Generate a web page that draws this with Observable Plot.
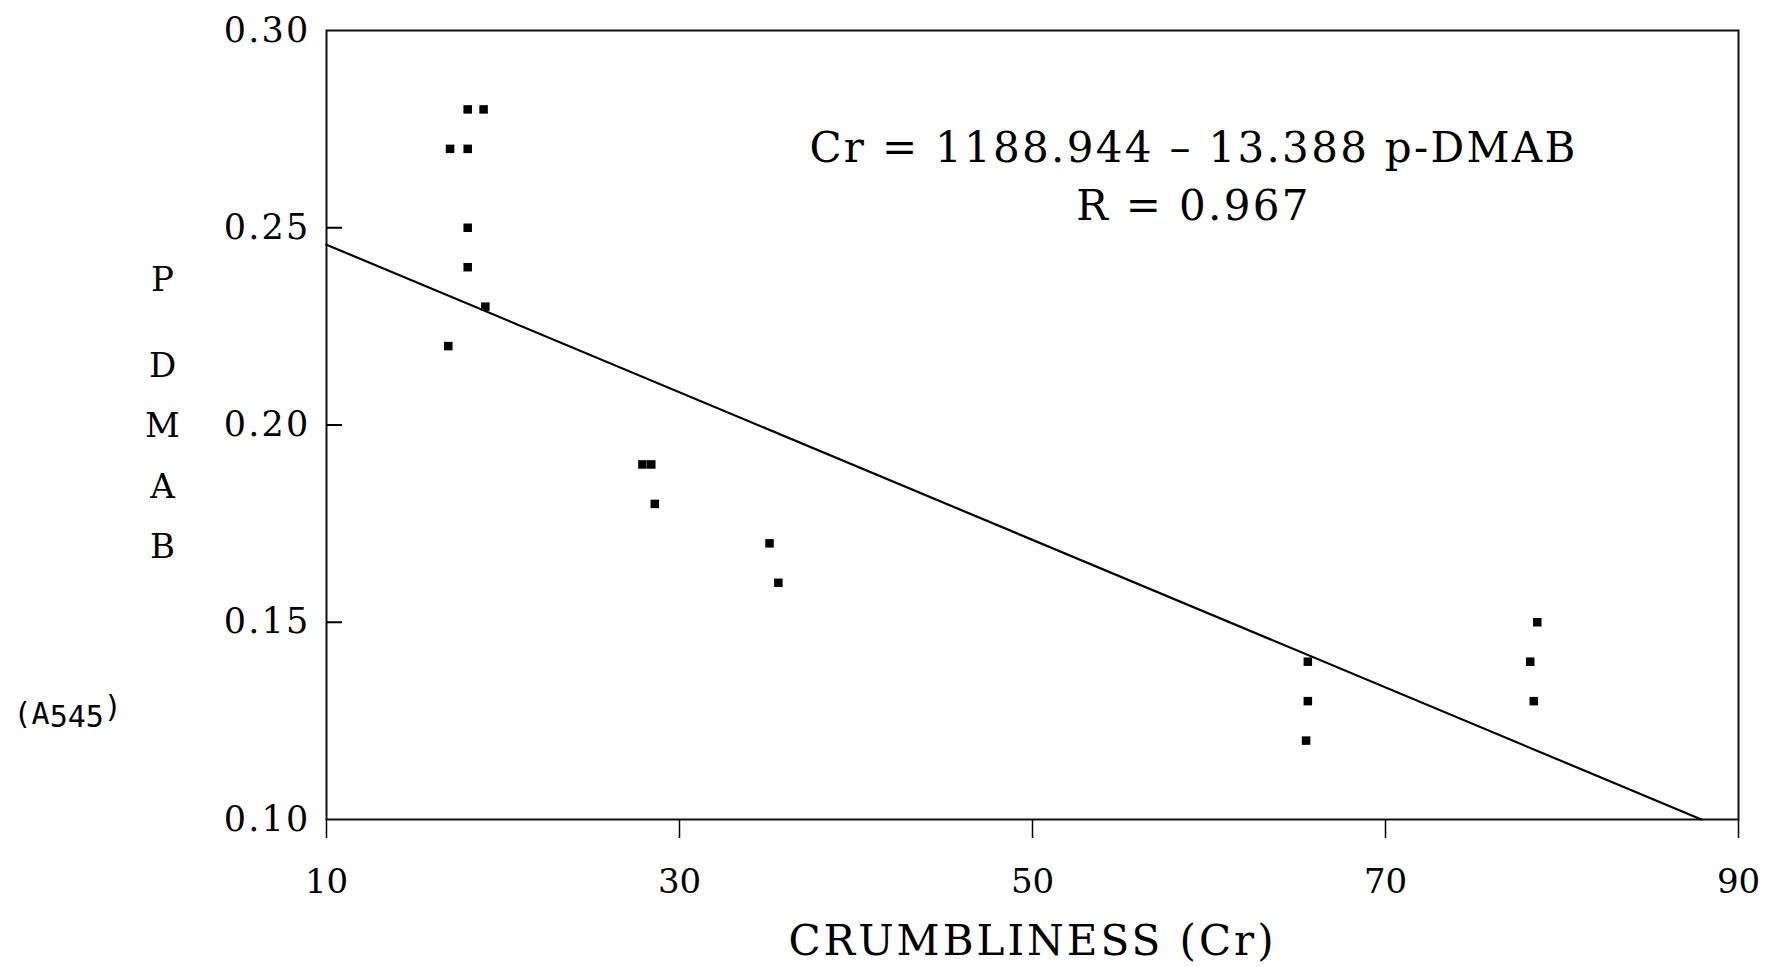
<!DOCTYPE html>
<html>
<head>
<meta charset="utf-8">
<script src="https://cdn.jsdelivr.net/npm/d3@7"></script>
<script src="https://cdn.jsdelivr.net/npm/@observablehq/plot@0.6"></script>
<style>
  html, body { margin: 0; padding: 0; background: #fff; }
  #chart svg { display: block; }
</style>
</head>
<body>
<div id="chart"></div>
<script>
// Crumbliness score (Cr) and p-DMAB absorbance at 545 nm for each sample
const crumbliness = [18.0, 18.9, 17.0, 18.0, 18.0, 18.0, 19.0, 16.9, 27.9, 28.4, 28.6, 35.1, 35.6, 65.6, 65.6, 65.5, 78.6, 78.2, 78.4];
const pDMAB       = [0.28, 0.28, 0.27, 0.27, 0.25, 0.24, 0.23, 0.22, 0.19, 0.19, 0.18, 0.17, 0.16, 0.14, 0.13, 0.12, 0.15, 0.14, 0.13];

// End points of the fitted regression line
const fitCr = [10, 87.9];
const fitP  = [0.2457, 0.10];

// Axis ticks
const xTicks = [10, 30, 50, 70, 90];
const yTicks = [0.10, 0.15, 0.20, 0.25, 0.30];

// Text
const equationText = "Cr = 1188.944 – 13.388 p-DMAB";
const correlationText = "R = 0.967";
const xTitle = "CRUMBLINESS (Cr)";
const yTitleTop = "P";
const yTitleRest = ["D", "M", "A", "B"];
const yUnit = "(A545)";

const samples = crumbliness.map((cr, i) => ({cr, p: pDMAB[i]}));
const fit = fitCr.map((cr, i) => ({cr, p: fitP[i]}));

const serif = "'DejaVu Serif', 'Liberation Serif', serif";

// layout
const W = 1774, H = 967;
const mLeft = 326, mRight = 36, mTop = 30, mBottom = 148;
const innerTick = 16;
const frameWidth = W - mLeft - mRight;

const chart = Plot.plot({
  width: W,
  height: H,
  marginLeft: mLeft,
  marginRight: mRight,
  marginTop: mTop,
  marginBottom: mBottom,
  style: {fontFamily: serif, fontSize: "34px", color: "#000", background: "#fff"},
  x: {domain: [10, 90]},
  y: {domain: [0.10, 0.30]},
  marks: [
    Plot.frame({stroke: "#111", strokeWidth: 2}),
    Plot.axisX(xTicks, {tickSize: 19, tickPadding: 30, tickFormat: d => String(d), label: null, strokeWidth: 1.5}),
    Plot.axisY(yTicks, {tickSize: 0, tickPadding: 16, tickFormat: d3.format(".2f"), label: null, fontSize: 35, ariaDescription: "y-labels"}),
    // short ticks pointing into the frame from its left edge
    Plot.tickY(yTicks.slice(1, -1), {y: d => d, insetRight: frameWidth - innerTick, stroke: "#000", strokeWidth: 2}),
    Plot.line(fit, {x: "cr", y: "p", stroke: "#000", strokeWidth: 2.2}),
    Plot.dot(samples, {x: "cr", y: "p", symbol: "square", r: 4.8, fill: "#000", stroke: null}),
    Plot.text([equationText + "\n" + correlationText], {
      frameAnchor: "top", dx: 161, dy: 91, lineAnchor: "top", lineHeight: 1.37,
      fontSize: 42, fill: "#000", ariaDescription: "equation"
    }),
    Plot.text([xTitle], {
      frameAnchor: "bottom", dy: 122, lineAnchor: "middle",
      fontSize: 42, fill: "#000", ariaDescription: "x-title"
    }),
    Plot.text([yTitleTop], {
      frameAnchor: "left", dx: -164, dy: -145, textAnchor: "middle", lineAnchor: "middle",
      fontSize: 34, fill: "#000"
    }),
    Plot.text([yTitleRest.join("\n")], {
      frameAnchor: "left", dx: -164, dy: 23, textAnchor: "middle", lineAnchor: "middle", lineHeight: 1.78,
      fontSize: 34, fill: "#000"
    }),
    Plot.text([yUnit], {
      frameAnchor: "left", dx: -313, dy: 289, textAnchor: "start", lineAnchor: "middle",
      fontSize: 30, fontFamily: "'DejaVu Sans Mono', 'Liberation Mono', monospace", fill: "#000", ariaDescription: "unit"
    })
  ]
});

// wider letter spacing for the typewritten-style labels
const spread = (selector, px) =>
  chart.querySelectorAll(selector).forEach(t => { t.style.letterSpacing = px + "px"; });
spread('g[aria-description="equation"] text', 2.3);
spread('g[aria-description="x-title"] text', 3);
spread('g[aria-description="y-labels"] text', 2.2);

// (A545) with the closing parenthesis raised
chart.querySelectorAll('g[aria-description="unit"] text').forEach(t => {
  t.textContent = "";
  const ns = "http://www.w3.org/2000/svg";
  const a = document.createElementNS(ns, "tspan"); a.textContent = "(A";
  const b = document.createElementNS(ns, "tspan"); b.textContent = "545"; b.setAttribute("dy", "3");
  const c = document.createElementNS(ns, "tspan"); c.textContent = ")"; c.setAttribute("dy", "-10");
  t.append(a, b, c);
});

document.getElementById("chart").append(chart);
</script>
</body>
</html>
